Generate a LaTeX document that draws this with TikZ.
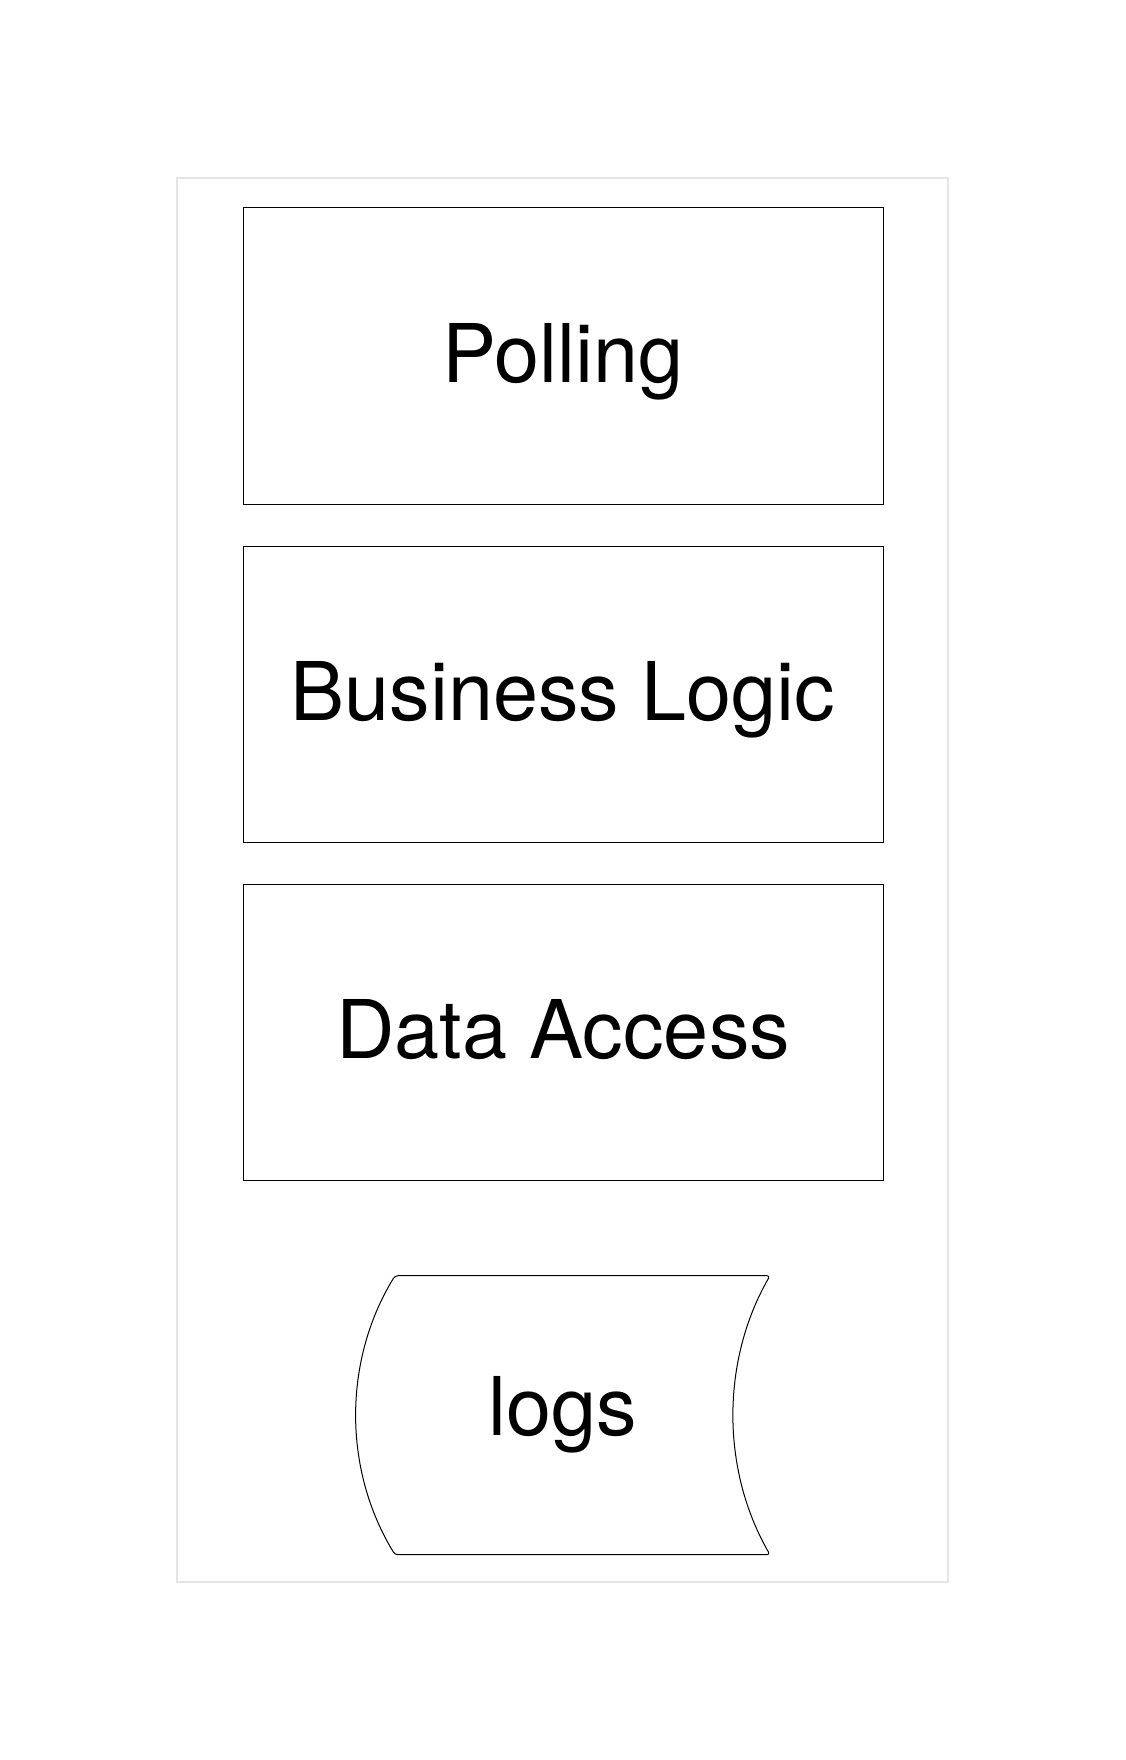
\documentclass[tikz,border=0pt]{standalone}
\usepackage{fontspec}
\setmainfont{TeX Gyre Heros}
\usetikzlibrary{positioning}
\begin{document}
\begin{tikzpicture}[x=1pt, y=-1pt, node distance=41pt,
		layer/.style={draw, line width=1pt, minimum width=640pt, minimum height=296pt, inner sep=0pt, text height=59pt, text depth=6pt, font=\fontsize{81}{96}\selectfont},
		store/.style={minimum height=279pt, inner sep=0pt, text height=59pt, text depth=19pt, font=\fontsize{81}{96}\selectfont}]
				\useasboundingbox (0,0) rectangle (1126,1760);

				% Frame
				\draw[line width=2pt, black!10] (177,178) rectangle (948,1582);

				% Layers
				\node[layer] (polling) at (563,356) {Polling};
				\node[layer, below=of polling] (logic) {Business Logic};
				\node[layer, below=of logic] (access) {Data Access};

				% Logs
				\node[store, below=95pt of access] (logs) {logs};
				\draw[line width=1pt, rounded corners=3pt, shift={(logs.center)}]
					(0,-139.5) -- (207,-139.5)
					.. controls (158,-54.5) and (158,54.5) .. (207,139.5)
					-- (-168,139.5)
					.. controls (-220,54.5) and (-220,-54.5) .. (-168,-139.5) -- cycle;
			\end{tikzpicture}
\end{document}
